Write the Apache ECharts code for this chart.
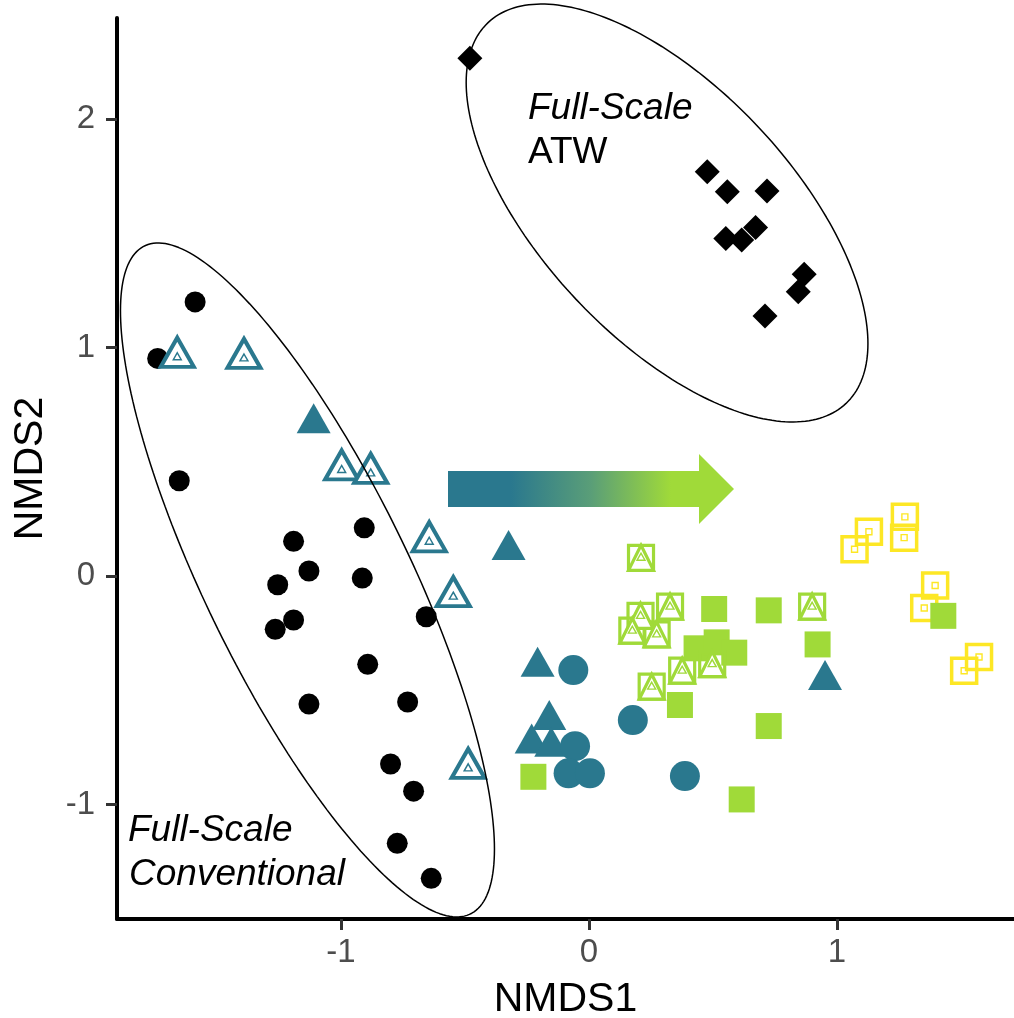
<!DOCTYPE html>
<html>
<head>
<meta charset="utf-8">
<script src="https://cdn.jsdelivr.net/npm/echarts@6/dist/echarts.min.js"></script>
<style>
html,body{margin:0;padding:0;background:#fff;overflow:hidden;}
#chart{width:1014px;height:1018px;}
</style>
</head>
<body>
<div id="chart"></div>
<script>
// ---------- data (NMDS1, NMDS2) ----------
var xTicks = [-1, 0, 1];
var yTicks = [-1, 0, 1, 2];

var conventionalCircles = [
  [-1.588,1.199],[-1.739,0.952],[-1.652,0.417],[-0.906,0.211],[-1.191,0.152],[-1.129,0.022],
  [-1.255,-0.038],[-0.914,-0.009],[-1.191,-0.192],[-1.265,-0.233],[-0.656,-0.178],[-0.892,-0.386],
  [-1.129,-0.560],[-0.731,-0.551],[-0.800,-0.822],[-0.707,-0.941],[-0.773,-1.169],[-0.636,-1.322]
];
var tealOpenTriangles = [
  [-1.660,0.957],[-1.391,0.952],[-0.997,0.464],[-0.880,0.449],[-0.644,0.150],[-0.547,-0.090],[-0.487,-0.841]
];
var tealTriangles = [
  [-1.110,0.690],[-0.324,0.136],[-0.207,-0.375],[-0.160,-0.608],[-0.231,-0.710],[-0.152,-0.725],[0.952,-0.433]
];
var tealCircles = [
  [-0.063,-0.411],[0.177,-0.630],[-0.056,-0.744],[-0.082,-0.863],[0.004,-0.863],[0.387,-0.875]
];
var yellowSquares = [
  [1.129,0.194],[1.071,0.117],[1.274,0.259],[1.271,0.168],[1.396,-0.041],[1.352,-0.140],[1.573,-0.354],[1.513,-0.414]
];
var greenSquares = [
  [-0.224,-0.878],[0.505,-0.144],[0.725,-0.150],[0.922,-0.299],[0.434,-0.316],[0.515,-0.290],
  [0.586,-0.335],[0.367,-0.564],[0.725,-0.656],[0.616,-0.977],[1.429,-0.174]
];
var greenOpenSquares = [
  [0.210,0.080],[0.208,-0.174],[0.327,-0.134],[0.175,-0.239],[0.273,-0.255],[0.376,-0.414],
  [0.497,-0.385],[0.253,-0.484],[0.900,-0.134]
];
var atwDiamonds = [
  [-0.480,2.265],[0.477,1.769],[0.558,1.681],[0.718,1.684],[0.552,1.477],[0.616,1.470],
  [0.672,1.525],[0.868,1.320],[0.844,1.244],[0.710,1.137]
];
// ellipse parameters: centre, half-extent in x and y, phase between x and y
var ellipseConventional = {cx:-1.135, cy:-0.017, rx:0.754, ry:1.474, phase:0.646};
var ellipseATW = {cx:0.315, cy:1.588, rx:0.810, ry:0.914, phase:0.896};

// ---------- styles ----------
var TEAL = '#2A788E', GREEN = '#A0DA39', YELLOW = '#FDE725';
var FONT = 'Liberation Sans, Arial, sans-serif';

function ellipsePoints(e) {
  var pts = [];
  var n = 240;
  for (var i = 0; i <= n; i++) {
    var t = 2 * Math.PI * i / n;
    pts.push([e.cx + e.rx * Math.cos(t), e.cy - e.ry * Math.cos(t - e.phase)]);
  }
  return pts;
}

function sc(data, symbol, size, itemStyle, extra) {
  itemStyle.opacity = 1;
  var s = {
    type: 'scatter', data: data, symbol: symbol, symbolSize: size,
    itemStyle: itemStyle, silent: true, animation: false,
    emphasis: {disabled: true}
  };
  if (extra) for (var k in extra) s[k] = extra[k];
  return s;
}

var clear = 'rgba(0,0,0,0)';
var series = [
  sc(conventionalCircles, 'circle', 21, {color: '#000'}),
  sc(tealTriangles, 'triangle', [34, 30], {color: TEAL}),
  sc(tealCircles, 'circle', 30, {color: TEAL}),
  sc(tealOpenTriangles, 'triangle', [33, 29], {color: '#fff', borderColor: TEAL, borderWidth: 4}, {symbolOffset: [0, -5]}),
  sc(tealOpenTriangles, 'triangle', [8, 7], {color: clear, borderColor: TEAL, borderWidth: 1.4}, {symbolOffset: [0, -1]}),
  sc(yellowSquares, 'rect', 25, {color: clear, borderColor: YELLOW, borderWidth: 3.5}),
  sc(yellowSquares, 'rect', 6, {color: clear, borderColor: YELLOW, borderWidth: 1.4}),
  sc(greenSquares, 'rect', 26, {color: GREEN}),
  sc(greenOpenSquares, 'rect', 25, {color: clear, borderColor: GREEN, borderWidth: 3.2}),
  sc(greenOpenSquares, 'triangle', 25, {color: '#fff', borderColor: GREEN, borderWidth: 3.2}),
  sc(greenOpenSquares, 'triangle', [8, 7], {color: clear, borderColor: GREEN, borderWidth: 1.4}, {symbolOffset: [0, -1]}),
  sc(atwDiamonds, 'diamond', 25, {color: '#000'}),
  {type: 'line', data: ellipsePoints(ellipseConventional), showSymbol: false, clip: false, silent: true,
   animation: false, lineStyle: {color: '#000', width: 1.5}, z: 5},
  {type: 'line', data: ellipsePoints(ellipseATW), showSymbol: false, clip: false, silent: true,
   animation: false, lineStyle: {color: '#000', width: 1.5}, z: 5}
];

var chart = echarts.init(document.getElementById('chart'), null, {renderer: 'canvas'});
var option = {
  backgroundColor: '#fff',
  animation: false,
  grid: {left: 117, top: 18, right: 0, bottom: 99, containLabel: false, outerBoundsMode: 'none'},
  xAxis: {
    type: 'value', min: -1.903, max: 1.714,
    name: 'NMDS1', nameLocation: 'middle', nameGap: 60,
    nameTextStyle: {fontFamily: FONT, fontSize: 41, color: '#000'},
    axisLine: {show: true, onZero: false, lineStyle: {color: '#000', width: 4}},
    axisTick: {show: true, length: 11, customValues: xTicks, lineStyle: {color: '#333', width: 3}},
    axisLabel: {show: true, customValues: xTicks, margin: 17, fontFamily: FONT, fontSize: 33, color: '#4D4D4D'},
    splitLine: {show: false}
  },
  yAxis: {
    type: 'value', min: -1.5, max: 2.441,
    name: 'NMDS2', nameLocation: 'middle', nameGap: 66,
    nameTextStyle: {fontFamily: FONT, fontSize: 41, color: '#000'},
    axisLine: {show: true, onZero: false, lineStyle: {color: '#000', width: 4}},
    axisTick: {show: true, length: 11, customValues: yTicks, lineStyle: {color: '#333', width: 3}},
    axisLabel: {show: true, customValues: yTicks, margin: 22, fontFamily: FONT, fontSize: 33, color: '#4D4D4D'},
    splitLine: {show: false}
  },
  series: series,
  graphic: [
    {
      type: 'polygon', z: 10, silent: true,
      shape: {points: [[448,471],[699,471],[699,454],[734,489],[699,524],[699,507],[448,507]]},
      style: {
        fill: new echarts.graphic.LinearGradient(0, 0, 1, 0, [
          {offset: 0, color: TEAL}, {offset: 0.22, color: TEAL},
          {offset: 0.5, color: '#5A9E78'},
          {offset: 0.78, color: GREEN}, {offset: 1, color: GREEN}
        ])
      }
    },
    {type: 'text', left: 528, top: 90, z: 10, silent: true,
     style: {text: 'Full-Scale', font: 'italic 37px ' + FONT, fill: '#000'}},
    {type: 'text', left: 528, top: 134, z: 10, silent: true,
     style: {text: 'ATW', font: '37px ' + FONT, fill: '#000'}},
    {type: 'text', left: 128, top: 812, z: 10, silent: true,
     style: {text: 'Full-Scale', font: 'italic 37px ' + FONT, fill: '#000'}},
    {type: 'text', left: 129, top: 856, z: 10, silent: true,
     style: {text: 'Conventional', font: 'italic 37px ' + FONT, fill: '#000'}}
  ]
};
chart.setOption(option);
</script>
</body>
</html>
